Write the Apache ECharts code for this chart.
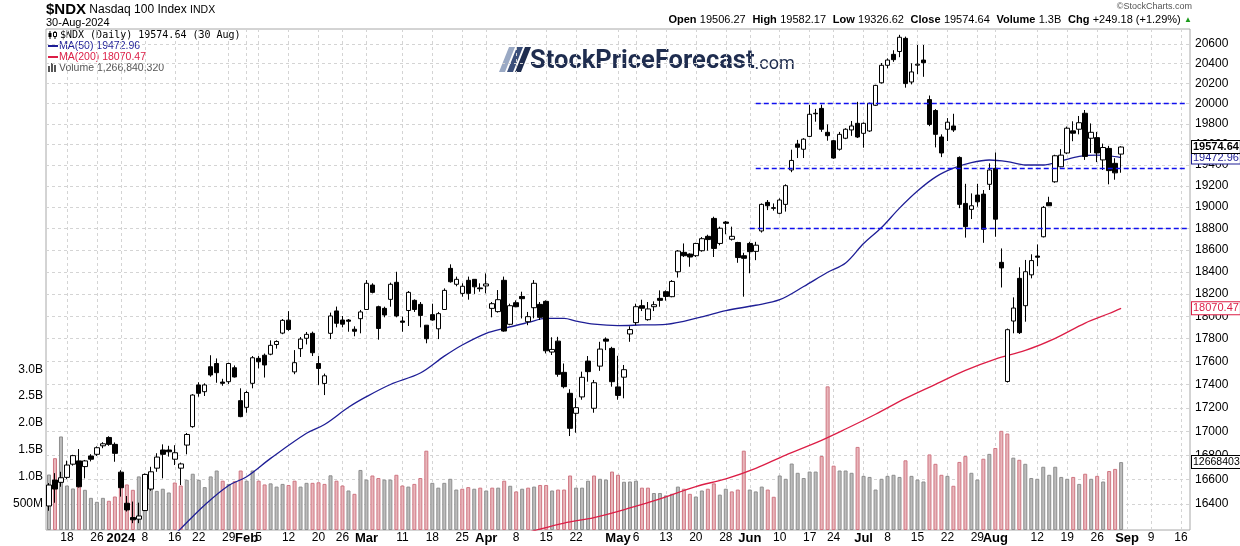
<!DOCTYPE html>
<html><head><meta charset="utf-8">
<script src="https://cdn.jsdelivr.net/npm/echarts@6/dist/echarts.min.js"></script>
<style>html,body{margin:0;padding:0;background:#fff}#c{width:1240px;height:546px}</style>
</head><body><div id="c"></div>
<script>
// ---- DATA ----
const dates = [
'2023-12-13','2023-12-14','2023-12-15','2023-12-18','2023-12-19','2023-12-20','2023-12-21','2023-12-22','2023-12-26','2023-12-27','2023-12-28','2023-12-29',
'2024-01-02','2024-01-03','2024-01-04','2024-01-05','2024-01-08','2024-01-09','2024-01-10','2024-01-11','2024-01-12','2024-01-16','2024-01-17','2024-01-18','2024-01-19','2024-01-22','2024-01-23','2024-01-24','2024-01-25','2024-01-26','2024-01-29','2024-01-30','2024-01-31',
'2024-02-01','2024-02-02','2024-02-05','2024-02-06','2024-02-07','2024-02-08','2024-02-09','2024-02-12','2024-02-13','2024-02-14','2024-02-15','2024-02-16','2024-02-20','2024-02-21','2024-02-22','2024-02-23','2024-02-26','2024-02-27','2024-02-28','2024-02-29',
'2024-03-01','2024-03-04','2024-03-05','2024-03-06','2024-03-07','2024-03-08','2024-03-11','2024-03-12','2024-03-13','2024-03-14','2024-03-15','2024-03-18','2024-03-19','2024-03-20','2024-03-21','2024-03-22','2024-03-25','2024-03-26','2024-03-27','2024-03-28',
'2024-04-01','2024-04-02','2024-04-03','2024-04-04','2024-04-05','2024-04-08','2024-04-09','2024-04-10','2024-04-11','2024-04-12','2024-04-15','2024-04-16','2024-04-17','2024-04-18','2024-04-19','2024-04-22','2024-04-23','2024-04-24','2024-04-25','2024-04-26','2024-04-29','2024-04-30',
'2024-05-01','2024-05-02','2024-05-03','2024-05-06','2024-05-07','2024-05-08','2024-05-09','2024-05-10','2024-05-13','2024-05-14','2024-05-15','2024-05-16','2024-05-17','2024-05-20','2024-05-21','2024-05-22','2024-05-23','2024-05-24','2024-05-28','2024-05-29','2024-05-30','2024-05-31',
'2024-06-03','2024-06-04','2024-06-05','2024-06-06','2024-06-07','2024-06-10','2024-06-11','2024-06-12','2024-06-13','2024-06-14','2024-06-17','2024-06-18','2024-06-20','2024-06-21','2024-06-24','2024-06-25','2024-06-26','2024-06-27','2024-06-28',
'2024-07-01','2024-07-02','2024-07-03','2024-07-05','2024-07-08','2024-07-09','2024-07-10','2024-07-11','2024-07-12','2024-07-15','2024-07-16','2024-07-17','2024-07-18','2024-07-19','2024-07-22','2024-07-23','2024-07-24','2024-07-25','2024-07-26','2024-07-29','2024-07-30','2024-07-31',
'2024-08-01','2024-08-02','2024-08-05','2024-08-06','2024-08-07','2024-08-08','2024-08-09','2024-08-12','2024-08-13','2024-08-14','2024-08-15','2024-08-16','2024-08-19','2024-08-20','2024-08-21','2024-08-22','2024-08-23','2024-08-26','2024-08-27','2024-08-28','2024-08-29','2024-08-30'
];
const futureDates = ['2024-09-03','2024-09-04','2024-09-05','2024-09-06','2024-09-09','2024-09-10','2024-09-11','2024-09-12','2024-09-13','2024-09-16','2024-09-17'];

const openP = [
16384,16596,16577,16618,16727,16754,16707,16795,16809,16880,
16950,16892,16661,16406,16290,16277,16347,16522,16694,16845,
16845,16768,16694,16886,17041,17397,17339,17555,17583,17422,
17425,17546,17262,17205,17411,17628,17655,17664,17749,17850,
17965,17510,17713,17804,17848,17583,17410,17848,18047,17966,
17966,17884,17978,18060,18280,18085,18070,18151,18305,17957,
18051,18142,18106,17920,18014,17888,18060,18432,18287,18205,
18323,18332,18254,18272,18070,18041,18323,17928,18121,18177,
17951,18076,18106,18133,17683,17779,17506,17325,17154,17294,
17604,17197,17560,17797,17715,17380,17464,17842,17943,18094,
17969,18085,18160,18220,18175,18401,18579,18563,18548,18594,
18727,18894,18661,18860,18700,18670,18548,18661,18588,18777,
19045,18995,18942,19026,19353,19604,19553,19678,19905,19953,
19718,19636,19553,19660,19741,19806,19708,19731,19984,20208,
20384,20495,20524,20658,20216,20385,20437,20040,19932,19672,
19748,19780,19474,19035,18979,19114,19123,19216,19369,18487,
17427,17957,18341,18094,18373,18545,18723,19042,19240,19384,
19517,19732,19748,19905,19660,19666,19450,19561,19417,19506.27];
const highP = [
16571,16653,16664,16756,16805,16853,16762,16810,16875,16910,
16960,16908,16677,16465,16420,16411,16650,16705,16818,16892,
16880,16885,16740,16988,17318,17420,17411,17655,17627,17450,
17590,17566,17368,17346,17648,17648,17670,17786,17786,17975,
18045,17700,17815,17860,17863,17648,17495,18032,18086,18002,
17975,17910,18056,18325,18296,18094,18085,18302,18401,17996,
18226,18151,18127,17920,18112,18038,18250,18469,18357,18296,
18357,18332,18296,18386,18127,18235,18357,18112,18142,18220,
18038,18325,18127,18142,17813,17817,17583,17360,17283,17512,
17648,17440,17773,17812,17729,17650,17570,17910,18112,18148,
18127,18133,18232,18232,18325,18600,18661,18570,18667,18720,
18742,18910,18817,18870,18817,18676,18575,18676,18676,19035,
19067,19035,19083,19216,19549,19644,19661,19989,19948,19990,
19795,19643,19722,19758,19829,20018,19815,20010,20188,20407,
20454,20537,20694,20676,20404,20590,20590,20081,19946,19698,
19857,19900,19484,19221,19130,19221,19162,19417,19522,18615,
17890,18169,18442,18509,18561,18652,19010,19098,19500,19554,
19774,19826,19878,19937,19805,19722,19608,19586,19466,19582.17];
const lowP = [
16345,16410,16541,16605,16715,16535,16610,16750,16795,16860,
16880,16747,16460,16339,16245,16245,16342,16508,16664,16610,
16790,16720,16555,16809,17032,17296,17302,17468,17416,17390,
17405,17461,17121,17159,17368,17540,17461,17655,17713,17840,
17870,17490,17640,17750,17648,17397,17310,17797,17901,17901,
17862,17822,17848,18056,18205,17792,17990,18085,17990,17862,
17913,18038,17901,17760,17960,17797,18056,18302,18269,18175,
18148,18200,18220,18205,17990,18032,17862,17920,18080,17980,
17920,17981,17966,17671,17657,17468,17368,16962,16990,17270,
17425,17159,17519,17700,17382,17270,17282,17773,17920,18046,
17960,18046,18085,18139,18170,18348,18536,18447,18536,18585,
18594,18536,18644,18746,18688,18483,18175,18387,18507,18762,
18972,18967,18933,18958,19332,19468,19468,19672,19822,19722,
19636,19461,19540,19651,19683,19662,19568,19722,19978,20200,
20353,20419,20466,20159,20192,20294,20268,19778,19571,19477,
19633,19722,18990,18715,18888,19004,18667,19162,18723,18258,
17418,17848,17842,17951,18341,18452,18717,19010,19231,19379,
19506,19631,19698,19450,19517,19429,19353,19216,19260,19326.62];
const closeP = [
16555,16522,16615,16720,16798,16541,16754,16768,16864,16897,
16892,16817,16533,16352,16272,16303,16642,16664,16786,16809,
16830,16822,16729,16975,17310,17325,17397,17483,17503,17411,
17583,17466,17126,17332,17633,17598,17570,17742,17776,17963,
17882,17590,17797,17839,17677,17540,17476,18002,17937,17929,
17955,17866,18038,18296,18214,17891,18011,18287,18002,17946,
18214,18060,18007,17800,17966,18023,18232,18310,18332,18269,
18205,18264,18247,18290,18112,18148,17868,18094,18085,18157,
17996,18296,17990,17694,17706,17489,17382,17027,17202,17463,
17512,17416,17709,17779,17425,17307,17529,17881,18085,18071,
18065,18103,18142,18177,18313,18591,18548,18536,18661,18705,
18697,18615,18802,18848,18727,18531,18524,18585,18645,19026,
19013,18989,19067,19203,19445,19572,19651,19895,19900,19748,
19685,19468,19698,19748,19780,19672,19806,20003,20182,20384,
20437,20441,20669,20200,20317,20395,20410,19795,19698,19517,
19817,19741,19026,18817,19013,19050,18792,19353,18887,18436,
17880,18073,17854,18401,18503,18534,18998,19013,19490,19496,
19758,19709,19812,19484,19718,19517,19570,19347,19325.46,19574.64];
// volume in billions of shares
const volumeB = [
1.035,1.34,1.745,0.83,0.775,0.81,0.75,0.60,0.526,0.60,
0.545,0.625,0.81,0.85,0.75,1.0,0.78,0.77,0.73,0.77,
0.70,0.886,0.83,0.936,1.05,0.936,0.80,1.0,1.11,0.92,
0.86,0.91,1.11,0.92,1.11,0.92,0.85,0.87,0.81,0.86,
0.84,0.92,0.81,0.88,0.88,0.89,0.86,1.02,0.92,0.83,
0.737,0.675,1.12,0.94,1.017,0.97,0.94,0.94,1.03,0.83,
0.81,0.86,0.97,1.48,0.88,0.79,0.88,0.955,0.755,0.77,
0.80,0.77,0.79,0.737,0.79,0.79,0.92,0.825,0.72,0.77,
0.79,0.81,0.84,0.84,0.737,0.755,0.755,1.017,0.79,0.79,
0.92,1.017,0.955,0.94,1.09,1.03,0.90,0.905,0.92,0.79,
0.79,0.69,0.69,0.645,0.675,0.81,0.77,0.675,0.625,0.737,
0.77,0.87,0.66,0.77,0.72,0.755,1.48,0.755,0.72,0.81,
0.755,0.62,1.017,0.955,1.24,1.067,0.97,1.09,1.09,1.38,
2.68,1.20,1.11,1.11,1.067,1.55,1.01,0.99,0.755,0.955,
1.01,1.03,0.99,1.30,1.01,0.94,0.905,1.41,1.235,1.03,
1.01,0.825,1.27,1.38,1.067,0.94,1.33,1.42,1.53,1.85,
1.80,1.35,1.31,1.235,0.97,0.955,1.18,1.03,1.18,0.99,
0.955,0.99,0.86,1.05,0.955,1.01,0.905,1.10,1.14,1.26684032];

const ma50Dates = ['2024-01-16','2024-01-17','2024-01-23','2024-01-29','2024-02-01','2024-02-07','2024-02-15','2024-02-21','2024-02-27','2024-03-01','2024-03-07','2024-03-14','2024-03-20','2024-03-25','2024-04-01','2024-04-04','2024-04-10','2024-04-15','2024-04-18','2024-04-22','2024-04-25','2024-05-01','2024-05-07','2024-05-13','2024-05-21','2024-05-28','2024-06-04','2024-06-10','2024-06-14','2024-06-21','2024-06-26','2024-07-01','2024-07-05','2024-07-10','2024-07-15','2024-07-18','2024-07-23','2024-07-26','2024-07-31','2024-08-05','2024-08-08','2024-08-13','2024-08-16','2024-08-21','2024-08-26','2024-08-28','2024-08-30'];
const ma50Vals = [16154,16201,16392,16551,16623,16775,16985,17059,17205,17296,17401,17500,17647,17745,17848,17892,17944,17981,17981,17957,17929,17916,17922,17928,17995,18050,18098,18148,18267,18396,18481,18660,18809,18991,19153,19285,19370,19424,19449,19434,19401,19401,19441,19485,19496,19489,19472.96];
const ma200Dates = ['2024-04-10','2024-04-11','2024-04-18','2024-04-25','2024-05-03','2024-05-10','2024-05-20','2024-05-28','2024-06-04','2024-06-11','2024-06-18','2024-06-26','2024-07-03','2024-07-11','2024-07-18','2024-07-25','2024-08-01','2024-08-08','2024-08-15','2024-08-22','2024-08-28','2024-08-30'];
const ma200Vals = [16170,16185,16246,16290,16368,16442,16542,16606,16693,16803,16904,17021,17146,17281,17402,17523,17622,17697,17804,17939,18024,18070.47];

const priceTicks = [16400,16600,16800,17000,17200,17400,17600,17800,18000,18200,18400,18600,18800,19000,19200,19400,19600,19800,20000,20200,20400,20600];
const volTicks = [0.5,1.0,1.5,2.0,2.5,3.0];
const xTickDates = ['2023-12-18','2023-12-26','2024-01-02','2024-01-08','2024-01-16','2024-01-22','2024-01-29','2024-02-01','2024-02-05','2024-02-12','2024-02-20','2024-02-26','2024-03-01','2024-03-11','2024-03-18','2024-03-25','2024-04-01','2024-04-08','2024-04-15','2024-04-22','2024-05-01','2024-05-06','2024-05-13','2024-05-20','2024-05-28','2024-06-03','2024-06-10','2024-06-17','2024-06-24','2024-07-01','2024-07-08','2024-07-15','2024-07-22','2024-07-29','2024-08-01','2024-08-12','2024-08-19','2024-08-26','2024-09-03','2024-09-09','2024-09-16'];
const xTickLabels = ['18','26','2024','8','16','22','29','Feb','5','12','20','26','Mar','11','18','25','Apr','8','15','22','May','6','13','20','28','Jun','10','17','24','Jul','8','15','22','29','Aug','12','19','26','Sep','9','16'];

const levelLines = [
  {from:'2024-06-04', value:20000},
  {from:'2024-06-04', value:19370},
  {from:'2024-06-03', value:18800}
];
const trendFrom = ['2024-07-11', 20762];
const trendTo = ['2024-08-26', 18244];

const lastClose = 19574.64, lastMa50 = 19472.96, lastMa200 = 18070.47, lastVolLabel = '12668403';

// ---- BUILD ----
const allDates = dates.concat(futureDates);
const lastDate = allDates[allDates.length - 1];
const tickMap = {};
xTickDates.forEach((d, i) => tickMap[d] = xTickLabels[i]);
const boldLabels = {'2024':1,'Feb':1,'Mar':1,'Apr':1,'May':1,'Jun':1,'Jul':1,'Aug':1,'Sep':1};

const candleData = dates.map((d, i) => [openP[i], closeP[i], lowP[i], highP[i]]);
const volData = volumeB.map((v, i) => {
  const down = i > 0 && closeP[i] < closeP[i - 1];
  return {value: v, itemStyle: down ? {color:'#e8b6bb', borderColor:'#cf7682'} : {color:'#bcbcbc', borderColor:'#8e8e8e'}};
});
const ma50Data = ma50Dates.map((d, i) => [d, ma50Vals[i]]);
const ma200Data = ma200Dates.map((d, i) => [d, ma200Vals[i]]);

const FONT = 'Liberation Sans, Arial, sans-serif';
function tag(value, text, color, bold, size) {
  return {
    yAxis: value,
    lineStyle: {width: 0, color: 'rgba(0,0,0,0)'},
    label: {show: true, position: 'end', distance: 2, formatter: text, color: color,
      fontFamily: FONT, fontSize: size || 11, fontWeight: bold ? 'bold' : 'normal', opacity: 1,
      backgroundColor: '#fff', borderColor: color, borderWidth: 1, padding: [1, 1, 0, 1]}
  };
}

const markLines = levelLines.map(l => [
  {coord: [l.from, l.value], lineStyle: {color: '#1010ee', type: [5, 3], width: 1.3}},
  {coord: [lastDate, l.value]}
]);
markLines.push([
  {coord: trendFrom, lineStyle: {color: '#3a55f0', type: 'solid', width: 1.2}},
  {coord: trendTo}
]);
markLines.push(tag(lastClose, '19574.64', '#000', true, 11));

const chart = echarts.init(document.getElementById('c'), null, {renderer: 'canvas'});
chart.setOption({
  animation: false,
  backgroundColor: '#fff',
  grid: {left: 46, right: 50, top: 29, bottom: 16, show: true, borderColor: '#a8a8a8', borderWidth: 1, backgroundColor: 'transparent'},
  xAxis: {
    type: 'category', data: allDates, boundaryGap: true,
    axisLine: {show: false}, axisTick: {show: false},
    axisLabel: {
      interval: (idx, val) => tickMap[val] !== undefined,
      formatter: (val) => { const l = tickMap[val]; if (l === undefined) return ''; return boldLabels[l] ? '{b|' + l + '}' : l; },
      color: '#000', fontSize: 12, fontFamily: FONT, margin: 2,
      rich: {b: {fontWeight: 'bold', fontSize: 13, fontFamily: FONT, color: '#000'}}
    },
    splitLine: {show: true, alignWithLabel: true, interval: (idx, val) => tickMap[val] !== undefined,
      lineStyle: {color: '#d4d4d4', type: [3, 3], width: 1}}
  },
  yAxis: [
    {type: 'value', position: 'left', min: 0, max: 9.347,
      axisLine: {show: false}, axisTick: {show: false}, splitLine: {show: false},
      axisLabel: {customValues: volTicks, color: '#000', fontSize: 12, fontFamily: FONT, margin: 3,
        formatter: v => v < 1 ? Math.round(v * 1000) + 'M' : v.toFixed(1) + 'B'}},
    {type: 'log', logBase: 10, position: 'right', min: 16190, max: 20754,
      axisLine: {show: false}, axisTick: {show: false, customValues: priceTicks},
      axisLabel: {customValues: priceTicks, color: '#000', fontSize: 12, fontFamily: FONT, margin: 5,
        formatter: v => String(Math.round(v))},
      splitLine: {show: true, lineStyle: {color: '#d4d4d4', type: [3, 3], width: 1}}}
  ],
  series: [
    {type: 'bar', name: 'Volume', yAxisIndex: 0, data: volData, barWidth: 4,
      itemStyle: {borderWidth: 1}, silent: true, z: 1,
      markLine: {silent: true, symbol: ['none', 'none'], animation: false, emphasis: {disabled: true},
        data: [tag(1.26684032, lastVolLabel, '#000', false, 10.5)]}},
    {type: 'line', name: 'MA(200)', yAxisIndex: 1, data: ma200Data, symbol: 'none', smooth: 0.35,
      lineStyle: {color: '#dc1e46', width: 1.3}, silent: true, z: 3,
      markLine: {silent: true, symbol: ['none', 'none'], animation: false, emphasis: {disabled: true},
        data: [tag(lastMa200, '18070.47', '#dc1e46', false, 11)]}},
    {type: 'line', name: 'MA(50)', yAxisIndex: 1, data: ma50Data, symbol: 'none', smooth: 0.35,
      lineStyle: {color: '#1e1e96', width: 1.3}, silent: true, z: 3,
      markLine: {silent: true, symbol: ['none', 'none'], animation: false, emphasis: {disabled: true},
        data: [tag(lastMa50, '19472.96', '#1e1e96', false, 11)]}},
    {type: 'candlestick', name: '$NDX', yAxisIndex: 1, data: candleData, barWidth: 5, silent: true, z: 4,
      itemStyle: {color: '#fff', color0: '#000', borderColor: '#000', borderColor0: '#000', borderWidth: 1},
      markLine: {silent: true, symbol: ['none', 'none'], animation: false, emphasis: {disabled: true},
        label: {show: false}, data: markLines}}
  ],
  graphic: [
    {type: 'text', x: 46, y: 10, style: {text: '{a|$NDX} {b|Nasdaq 100 Index} {c|INDX}', verticalAlign: 'middle', align: 'left',
      rich: {a: {fontFamily: FONT, fontSize: 15, fontWeight: 'bold', fill: '#000'},
             b: {fontFamily: FONT, fontSize: 12, fill: '#000'},
             c: {fontFamily: FONT, fontSize: 10.5, fill: '#000'}}}},
    {type: 'text', x: 46, y: 23, style: {text: '30-Aug-2024', fontFamily: FONT, fontSize: 11, fill: '#000', verticalAlign: 'middle'}},
    {type: 'text', x: 1192, y: 7, style: {text: '\u00A9StockCharts.com', fontFamily: FONT, fontSize: 9, fill: '#555', align: 'right', verticalAlign: 'middle'}},
    {type: 'text', x: 1192, y: 20, style: {
      text: '{b|Open} {v|19506.27}  {b|High} {v|19582.17}  {b|Low} {v|19326.62}  {b|Close} {v|19574.64}  {b|Volume} {v|1.3B}  {b|Chg} {v|+249.18 (+1.29%)} {g|\u25B2}',
      align: 'right', verticalAlign: 'middle',
      rich: {b: {fontFamily: FONT, fontSize: 11, fontWeight: 'bold', fill: '#000'},
             v: {fontFamily: FONT, fontSize: 11, fill: '#000'},
             g: {fontFamily: FONT, fontSize: 8, fill: '#1a9a1a'}}}},
    {type: 'group', children: [
      {type: 'line', shape: {x1: 50, y1: 31, x2: 50, y2: 39}, style: {stroke: '#000', lineWidth: 1}},
      {type: 'rect', shape: {x: 48.5, y: 33, width: 3, height: 4}, style: {fill: '#000'}},
      {type: 'line', shape: {x1: 55, y1: 31, x2: 55, y2: 39}, style: {stroke: '#000', lineWidth: 1}},
      {type: 'rect', shape: {x: 53.5, y: 32.5, width: 3, height: 4}, style: {fill: '#fff', stroke: '#000', lineWidth: 1}},
      {type: 'text', x: 60, y: 35.5, style: {text: '$NDX (Daily) 19574.64 (30 Aug)', fontFamily: 'DejaVu Sans Mono, monospace', fontSize: 10, fill: '#000', verticalAlign: 'middle'}},
      {type: 'line', shape: {x1: 48, y1: 46, x2: 58, y2: 46}, style: {stroke: '#1e1e96', lineWidth: 2}},
      {type: 'text', x: 59, y: 46.5, style: {text: 'MA(50) 19472.96', fontFamily: FONT, fontSize: 10.5, fill: '#1e1e96', verticalAlign: 'middle'}},
      {type: 'line', shape: {x1: 48, y1: 57, x2: 58, y2: 57}, style: {stroke: '#dc1e46', lineWidth: 2}},
      {type: 'text', x: 59, y: 57.5, style: {text: 'MA(200) 18070.47', fontFamily: FONT, fontSize: 10.5, fill: '#dc1e46', verticalAlign: 'middle'}},
      {type: 'rect', shape: {x: 48, y: 66, width: 2, height: 6}, style: {fill: '#555'}},
      {type: 'rect', shape: {x: 51, y: 63, width: 2, height: 9}, style: {fill: '#555'}},
      {type: 'rect', shape: {x: 54, y: 65, width: 2, height: 7}, style: {fill: '#555'}},
      {type: 'text', x: 59, y: 68, style: {text: 'Volume 1,266,840,320', fontFamily: FONT, fontSize: 10.5, fill: '#555', verticalAlign: 'middle'}}
    ]},
    {type: 'group', children: [
      {type: 'polygon', shape: {points: [[499, 72], [505, 72], [515, 47], [509, 47]]}, style: {fill: '#9aa9c4'}},
      {type: 'polygon', shape: {points: [[507, 72], [513, 72], [523, 47], [517, 47]]}, style: {fill: '#3b4f7a'}},
      {type: 'polygon', shape: {points: [[515, 72], [521, 72], [531, 47], [525, 47]]}, style: {fill: '#1f2d4f'}},
      {type: 'text', x: 530, y: 75, style: {text: '{a|StockPriceForecast}{b|.com}', align: 'left', verticalAlign: 'bottom',
        rich: {a: {fontFamily: 'Roboto, Liberation Sans, sans-serif', fontSize: 25.5, fontWeight: 'bold', fill: '#1f2d4f', verticalAlign: 'bottom'},
               b: {fontFamily: 'Roboto, Liberation Sans, sans-serif', fontSize: 18, fill: '#1f2d4f', verticalAlign: 'bottom', padding: [0, 0, 2, 0]}}}}
    ]}
  ]
});
</script></body></html>
